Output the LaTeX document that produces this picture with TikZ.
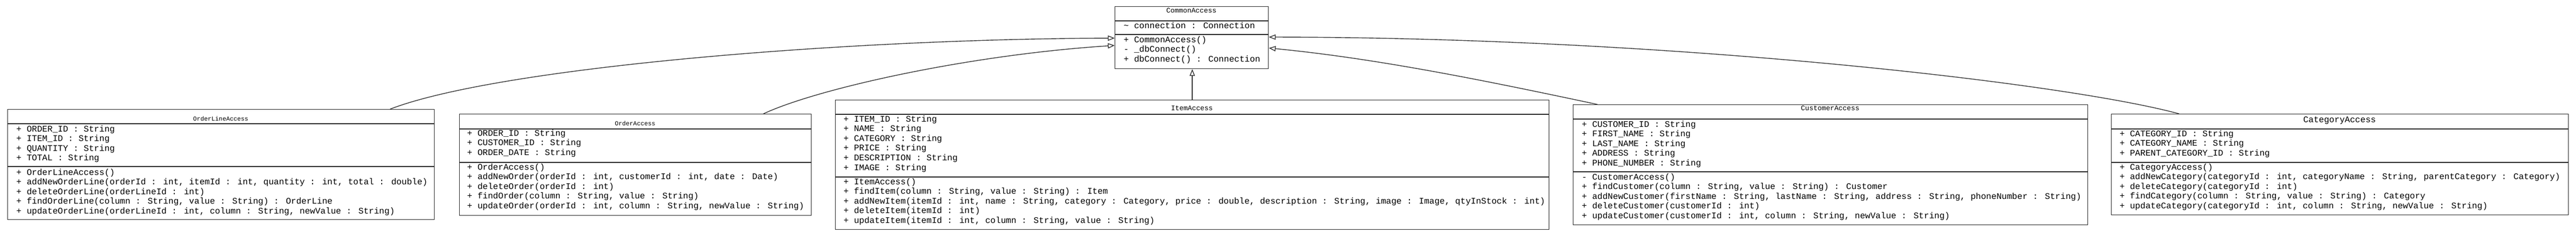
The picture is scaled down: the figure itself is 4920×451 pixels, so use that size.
\documentclass[tikz,border=0pt]{standalone}
\usepackage{fontspec}
\newfontfamily\umlmono{Liberation Mono}
\usetikzlibrary{arrows.meta}
\tikzset{
  box/.style={draw=black!85, line width=1.3pt, inner sep=0pt, anchor=north west, fill=white},
  divline/.style={draw=black!85, line width=1.5pt},
  mem/.style={anchor=mid west, inner sep=0pt, font=\umlmono\fontsize{16.5}{18}\selectfont},
  ttlS/.style={anchor=mid, inner sep=0pt, font=\umlmono\fontsize{11.7}{13}\selectfont},
  ttlM/.style={anchor=mid, inner sep=0pt, font=\umlmono\fontsize{13.3}{15}\selectfont},
  ttlL/.style={anchor=mid, inner sep=0pt, font=\umlmono\fontsize{16.5}{18}\selectfont},
  gen/.style={draw=black!80, line width=1.4pt, -{Triangle[open, length=13pt, width=10pt]}},
}
\newcommand\umlrows[4]{\foreach \rowtext [count=\i] in {#4}{\node[mem] (#1\i) at (#2,{#3+(\i-1)*18.6}) {\rowtext};}}
\begin{document}
\begin{tikzpicture}[x=1pt, y=-1pt]
\fill[white] (0,0) rectangle (4920,451);
\useasboundingbox (0,0) rectangle (4920,451);

% boxes
\node[box, minimum width=293pt, minimum height=119pt] (ca) at (2129,12) {};
\node[box, minimum width=815pt, minimum height=211pt] (ol) at (14,209) {};
\node[box, minimum width=672pt, minimum height=194pt] (oa) at (877,218) {};
\node[box, minimum width=1363pt, minimum height=248pt] (ia) at (1595,191) {};
\node[box, minimum width=983pt, minimum height=230pt] (cu) at (3004,200) {};
\node[box, minimum width=873pt, minimum height=193pt] (cat) at (4032,218) {};

% compartment dividers
\draw[divline] ([yshift=-28pt]ca.north west) -- ([yshift=-28pt]ca.north east);
\draw[divline] ([yshift=-54pt]ca.north west) -- ([yshift=-54pt]ca.north east);
\draw[divline] ([yshift=-28pt]ol.north west) -- ([yshift=-28pt]ol.north east);
\draw[divline] ([yshift=-110pt]ol.north west) -- ([yshift=-110pt]ol.north east);
\draw[divline] ([yshift=-29pt]oa.north west) -- ([yshift=-29pt]oa.north east);
\draw[divline] ([yshift=-93pt]oa.north west) -- ([yshift=-93pt]oa.north east);
\draw[divline] ([yshift=-28pt]ia.north west) -- ([yshift=-28pt]ia.north east);
\draw[divline] ([yshift=-148pt]ia.north west) -- ([yshift=-148pt]ia.north east);
\draw[divline] ([yshift=-28pt]cu.north west) -- ([yshift=-28pt]cu.north east);
\draw[divline] ([yshift=-129pt]cu.north west) -- ([yshift=-129pt]cu.north east);
\draw[divline] ([yshift=-29pt]cat.north west) -- ([yshift=-29pt]cat.north east);
\draw[divline] ([yshift=-93pt]cat.north west) -- ([yshift=-93pt]cat.north east);

% titles
\node[ttlM] (caT) at (2275.5,22) {CommonAccess};
\node[ttlS] (olT) at (421.5,229) {OrderLineAccess};
\node[ttlS] (oaT) at (1213,238) {OrderAccess};
\node[ttlM] (iaT) at (2276.5,209) {ItemAccess};
\node[ttlM] (cuT) at (3495.5,209) {CustomerAccess};
\node[ttlL] (catT) at (4468.5,232) {CategoryAccess};

% CommonAccess
\umlrows{caA}{2146}{52}{{\textasciitilde{} connection : Connection}}
\umlrows{caM}{2146}{79}{{+ CommonAccess()},{- \_dbConnect()},{+ dbConnect() : Connection}}

% OrderLineAccess
\umlrows{olA}{31}{250}{{+ ORDER\_ID : String},{+ ITEM\_ID : String},{+ QUANTITY : String},{+ TOTAL : String}}
\umlrows{olM}{31}{333}{{+ OrderLineAccess()},{+ addNewOrderLine(orderId : int, itemId : int, quantity : int, total : double)},{+ deleteOrderLine(orderLineId : int)},{+ findOrderLine(column : String, value : String) : OrderLine},{+ updateOrderLine(orderLineId : int, column : String, newValue : String)}}

% OrderAccess
\umlrows{oaA}{892}{258}{{+ ORDER\_ID : String},{+ CUSTOMER\_ID : String},{+ ORDER\_DATE : String}}
\umlrows{oaM}{892}{323}{{+ OrderAccess()},{+ addNewOrder(orderId : int, customerId : int, date : Date)},{+ deleteOrder(orderId : int)},{+ findOrder(column : String, value : String)},{+ updateOrder(orderId : int, column : String, newValue : String)}}

% ItemAccess
\umlrows{iaA}{1611}{231}{{+ ITEM\_ID : String},{+ NAME : String},{+ CATEGORY : String},{+ PRICE : String},{+ DESCRIPTION : String},{+ IMAGE : String}}
\umlrows{iaM}{1611}{351}{{+ ItemAccess()},{+ findItem(column : String, value : String) : Item},{+ addNewItem(itemId : int, name : String, category : Category, price : double, description : String, image : Image, qtyInStock : int)},{+ deleteItem(itemId : int)},{+ updateItem(itemId : int, column : String, value : String)}}

% CustomerAccess
\umlrows{cuA}{3021}{241}{{+ CUSTOMER\_ID : String},{+ FIRST\_NAME : String},{+ LAST\_NAME : String},{+ ADDRESS : String},{+ PHONE\_NUMBER : String}}
\umlrows{cuM}{3021}{342}{{- CustomerAccess()},{+ findCustomer(column : String, value : String) : Customer},{+ addNewCustomer(firstName : String, lastName : String, address : String, phoneNumber : String)},{+ deleteCustomer(customerId : int)},{+ updateCustomer(customerId : int, column : String, newValue : String)}}

% CategoryAccess
\umlrows{catA}{4048}{259}{{+ CATEGORY\_ID : String},{+ CATEGORY\_NAME : String},{+ PARENT\_CATEGORY\_ID : String}}
\umlrows{catM}{4048}{323}{{+ CategoryAccess()},{+ addNewCategory(categoryId : int, categoryName : String, parentCategory : Category)},{+ deleteCategory(categoryId : int)},{+ findCategory(column : String, value : String) : Category},{+ updateCategory(categoryId : int, column : String, newValue : String)}}

% generalizations
\draw[gen] ([xshift=731pt]ol.north west) .. controls (950,130) and (1600,75) .. ([yshift=-61pt]ca.north west);
\draw[gen] ([xshift=581pt]oa.north west) .. controls (1560,170) and (1850,105) .. ([yshift=-75pt]ca.north west);
\draw[gen] (ia.north) -- (ia.north |- ca.south);
\draw[gen] ([xshift=47pt]cu.north west) .. controls (2840,155) and (2630,112) .. ([yshift=-80pt]ca.north east);
\draw[gen] ([xshift=130pt]cat.north west) .. controls (3950,160) and (3200,72) .. ([yshift=-59pt]ca.north east);
\end{tikzpicture}
\end{document}
